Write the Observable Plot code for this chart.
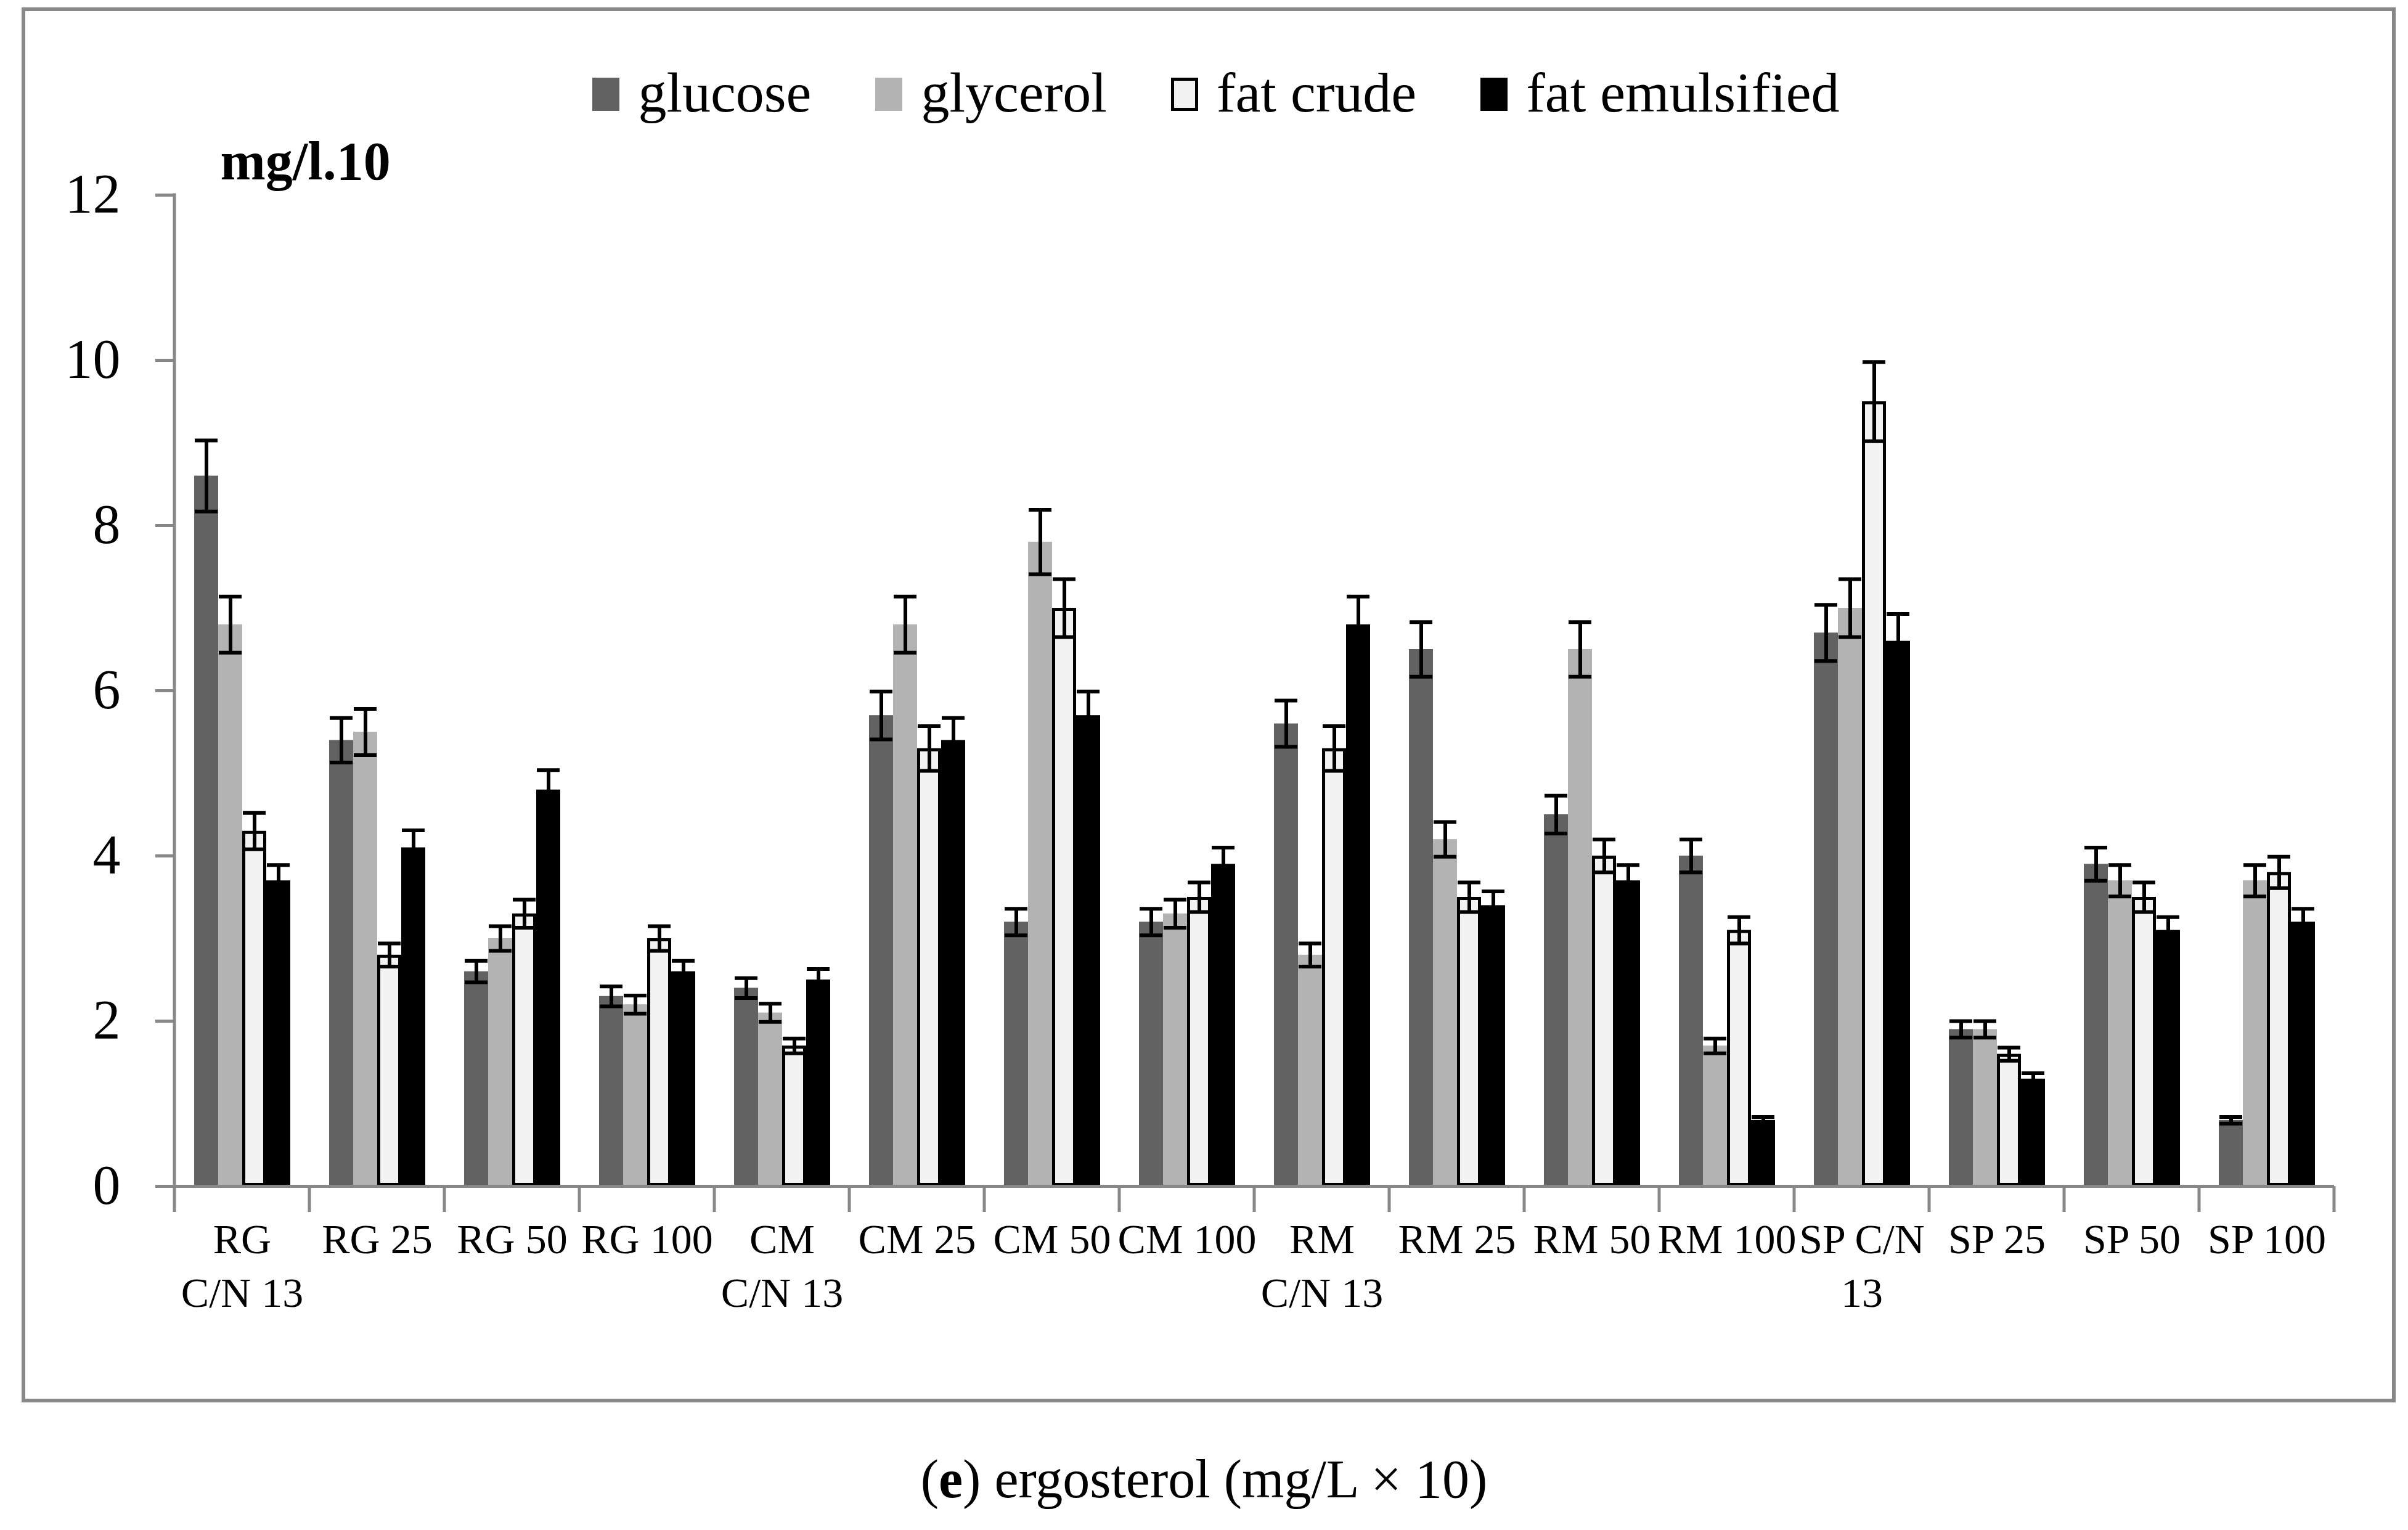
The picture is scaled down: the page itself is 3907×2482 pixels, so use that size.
<!DOCTYPE html>
<html><head><meta charset="utf-8">
<script src="https://cdn.jsdelivr.net/npm/d3@7"></script>
<script src="https://cdn.jsdelivr.net/npm/@observablehq/plot@0.6"></script>
<style>
body{margin:0;background:#fff;width:3907px;height:2482px;position:relative;font-family:"Liberation Serif",serif;color:#000;}
#frame{position:absolute;left:35px;top:12px;width:3852px;height:2263px;box-sizing:border-box;border:6px solid #888;}
#legend{height:182px;box-sizing:border-box;padding-top:82px;display:flex;justify-content:center;align-items:center;font-size:92px;line-height:100px;padding-left:24px;}
.item{display:flex;align-items:center;margin:0 52px;flex-shrink:0;}
.sw{width:44px;height:54px;margin-right:30px;box-sizing:border-box;flex-shrink:0;margin-top:6px;}
#chart svg{display:block;}
#caption{position:absolute;left:0;width:3907px;top:2350px;text-align:center;font-size:88px;line-height:100px;}
</style></head>
<body>
<div id="frame">
  <div id="legend"></div>
  <div id="chart"></div>
</div>
<div id="caption">(<b>e</b>) ergosterol (mg/L × 10)</div>
<script>
const categories = ["RG C/N 13","RG 25","RG 50","RG 100","CM C/N 13","CM 25","CM 50","CM 100","RM C/N 13","RM 25","RM 50","RM 100","SP C/N 13","SP 25","SP 50","SP 100"];
const tickLabels = ["RG\nC/N 13","RG 25","RG 50","RG 100","CM\nC/N 13","CM 25","CM 50","CM 100","RM\nC/N 13","RM 25","RM 50","RM 100","SP C/N\n13","SP 25","SP 50","SP 100"];
const seriesNames = ["glucose","glycerol","fat crude","fat emulsified"];
const seriesColors = ["#626262","#b3b3b3","#f2f2f2","#000000"];
const yTicks = [0,2,4,6,8,10,12];
const yUnit = "mg/l.10";

const glucose       = [8.6,5.4,2.6,2.3,2.4,5.7,3.2,3.2,5.6,6.5,4.5,4.0,6.7,1.9,3.9,0.8];
const glycerol      = [6.8,5.5,3.0,2.2,2.1,6.8,7.8,3.3,2.8,4.2,6.5,1.7,7.0,1.9,3.7,3.7];
const fatCrude      = [4.3,2.8,3.3,3.0,1.7,5.3,7.0,3.5,5.3,3.5,4.0,3.1,9.5,1.6,3.5,3.8];
const fatEmulsified = [3.7,4.1,4.8,2.6,2.5,5.4,5.7,3.9,6.8,3.4,3.7,0.8,6.6,1.3,3.1,3.2];

const glucoseErr       = [0.43,0.27,0.13,0.12,0.12,0.29,0.16,0.16,0.28,0.33,0.23,0.20,0.34,0.10,0.20,0.04];
const glycerolErr      = [0.34,0.28,0.15,0.11,0.11,0.34,0.39,0.17,0.14,0.21,0.33,0.09,0.35,0.10,0.19,0.19];
const fatCrudeErr      = [0.22,0.14,0.17,0.15,0.09,0.27,0.35,0.18,0.27,0.18,0.20,0.16,0.48,0.08,0.18,0.19];
const fatEmulsifiedErr = [0.19,0.21,0.24,0.13,0.13,0.27,0.29,0.20,0.34,0.17,0.19,0.04,0.33,0.07,0.16,0.16];

const values = [glucose, glycerol, fatCrude, fatEmulsified];
const errors = [glucoseErr, glycerolErr, fatCrudeErr, fatEmulsifiedErr];

const rows = [];
categories.forEach((c, i) => seriesNames.forEach((s, j) => rows.push({cat: c, series: s, value: values[j][i], err: errors[j][i]})));

// Legend
const legend = document.getElementById("legend");
seriesNames.forEach((s, j) => {
  const it = document.createElement("div"); it.className = "item";
  const sw = document.createElement("div"); sw.className = "sw";
  sw.style.background = seriesColors[j];
  if (s === "fat crude") sw.style.border = "5px solid #000";
  const tx = document.createElement("span"); tx.textContent = s;
  it.appendChild(sw); it.appendChild(tx); legend.appendChild(it);
});

const font = "Liberation Serif, serif";
const chart = Plot.plot({
  width: 3840, height: 2069,
  marginLeft: 241, marginRight: 94, marginTop: 116, marginBottom: 345,
  style: {fontFamily: font, background: "white", color: "black", overflow: "visible"},
  fx: {domain: categories, padding: 0, label: null},
  x: {domain: seriesNames, paddingInner: 0, paddingOuter: 0.74, axis: null},
  y: {domain: [0, 12], label: null},
  color: {domain: seriesNames, range: seriesColors},
  marks: [
    Plot.barY(rows, {fx: "cat", x: "series", y: "value", fill: "series"}),
    Plot.barY(rows.filter(d => d.series === "fat crude"), {fx: "cat", x: "series", y: "value", fill: "none", stroke: "black", strokeWidth: 5, inset: 2.5}),
    Plot.ruleX(rows, {fx: "cat", x: "series", y1: d => d.value - d.err, y2: d => d.value + d.err, stroke: "black", strokeWidth: 6}),
    Plot.tickY(rows, {fx: "cat", x: "series", y: d => d.value + d.err, stroke: "black", strokeWidth: 6, inset: 1}),
    Plot.tickY(rows, {fx: "cat", x: "series", y: d => d.value - d.err, stroke: "black", strokeWidth: 6, inset: 1}),
    Plot.ruleY([0], {stroke: "#888", strokeWidth: 5}),
    Plot.axisY(yTicks, {anchor: "left", tickSize: 31, tickPadding: 57, fontSize: 90, stroke: "#888", strokeWidth: 5, tickFormat: d => String(d), label: null}),
    Plot.axisFx({anchor: "bottom", tickSize: 0, tickPadding: 47, fontSize: 68, lineHeight: 1.28, tickFormat: d => tickLabels[categories.indexOf(d)], label: null}),
    Plot.text([{cat: categories[0], t: yUnit}], {fx: "cat", text: "t", frameAnchor: "top-left", dx: 74, dy: -54, lineAnchor: "middle", textAnchor: "start", fontSize: 88, fontWeight: "bold"})
  ]
});
document.getElementById("chart").appendChild(chart);

// y axis line and category boundary ticks, from the plot's own scales
const fxS = chart.scale("fx"), yS = chart.scale("y");
const y0 = yS.apply(0), yTop = yS.apply(yTicks[yTicks.length - 1]);
const g = d3.select(chart).append("g").attr("stroke", "#888").attr("stroke-width", 5).attr("stroke-linecap", "square");
const left = fxS.apply(categories[0]);
g.append("line").attr("x1", left).attr("x2", left).attr("y1", yTop).attr("y2", y0);
const bounds = categories.map(c => fxS.apply(c)).concat([fxS.apply(categories[categories.length - 1]) + fxS.bandwidth]);
bounds.forEach(bx => g.append("line").attr("x1", bx).attr("x2", bx).attr("y1", y0).attr("y2", y0 + 42).attr("stroke-linecap", "butt"));
</script>
</body></html>
